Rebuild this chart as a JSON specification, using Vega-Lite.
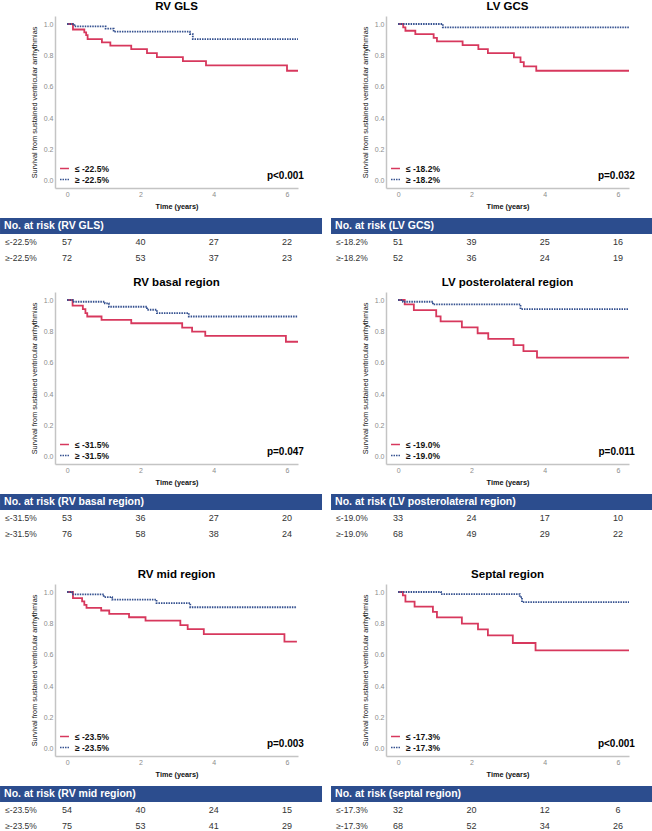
{
"$schema":"https://vega.github.io/schema/vega-lite/v6.json",
"padding":0,
"config":{"view":{"stroke":null},"font":"Liberation Sans",
"axis":{"domainColor":"#c4c4c4","domainWidth":1.5,"ticks":false,"grid":false,"labelColor":"#8c8c8c","labelFontSize":7,"labelOverlap":false,"titleFontSize":7.3,"titleColor":"#111","titleFontWeight":"normal"},
"axisX":{"labelPadding":2,"titlePadding":5,"titleFontWeight":"bold"},
"axisY":{"labelPadding":2,"titlePadding":5},
"title":{"fontSize":11.5,"fontWeight":"bold","offset":4,"color":"#000"},
"legend":{"orient":"bottom-left","offset":4,"padding":0,"symbolType":"stroke","symbolSize":80,"symbolStrokeWidth":1.6,"labelFontSize":8.5,"labelFontWeight":"bold","labelColor":"#111","rowPadding":1,"labelOffset":5}},
"spacing":10,
"resolve":{"scale":{"color":"independent","strokeDash":"independent"}},
"vconcat":[
{"hconcat":[
 {"vconcat":[
  {"width":243,"height":172,"title":"RV GLS","layer":[
   {"data":{"values":[{"g":"≤ -22.5%","t":0,"s":1},{"g":"≤ -22.5%","t":0.16,"s":0.965},{"g":"≤ -22.5%","t":0.47,"s":0.947},{"g":"≤ -22.5%","t":0.52,"s":0.929},{"g":"≤ -22.5%","t":0.56,"s":0.904},{"g":"≤ -22.5%","t":0.95,"s":0.883},{"g":"≤ -22.5%","t":1.18,"s":0.862},{"g":"≤ -22.5%","t":1.75,"s":0.84},{"g":"≤ -22.5%","t":2.18,"s":0.815},{"g":"≤ -22.5%","t":2.45,"s":0.789},{"g":"≤ -22.5%","t":3.16,"s":0.764},{"g":"≤ -22.5%","t":3.79,"s":0.736},{"g":"≤ -22.5%","t":6.0,"s":0.702},{"g":"≤ -22.5%","t":6.3,"s":0.702},
   {"g":"≥ -22.5%","t":0,"s":1},{"g":"≥ -22.5%","t":0.2,"s":0.985},{"g":"≥ -22.5%","t":1.05,"s":0.97},{"g":"≥ -22.5%","t":1.27,"s":0.951},{"g":"≥ -22.5%","t":3.35,"s":0.936},{"g":"≥ -22.5%","t":3.43,"s":0.904},{"g":"≥ -22.5%","t":6.3,"s":0.904}]},
    "mark":{"type":"line","interpolate":"step-after","strokeWidth":1.8},
    "encoding":{"x":{"field":"t","type":"quantitative","scale":{"domain":[-0.33,6.3],"nice":false,"zero":false},"axis":{"values":[0,2,4,6],"format":"d","title":"Time (years)"}},
     "y":{"field":"s","type":"quantitative","scale":{"domain":[-0.045,1.051],"nice":false,"zero":false},"axis":{"values":[0,0.2,0.4,0.6,0.8,1],"tickCount":10,"format":".1f","title":"Survival from sustained ventricular arrhythmias"}},
     "color":{"field":"g","type":"nominal","scale":{"range":["#d7385d","#34508f"]},"legend":{"title":null}},
     "strokeDash":{"field":"g","type":"nominal","scale":{"range":[[1,0],[1.5,1]]},"legend":{"title":null}}}},
   {"data":{"values":[{}]},"mark":{"type":"text","text":"p<0.001","align":"right","baseline":"middle","fontSize":10,"fontWeight":"bold","color":"#000"},"encoding":{"x":{"datum":6.46,"type":"quantitative"},"y":{"datum":0.03,"type":"quantitative"}}}
  ]},
  {"width":243,"height":48,"layer":[
   {"data":{"values":[{"h":"No. at risk (RV GLS)"}]},"layer":[
    {"mark":{"type":"rect","color":"#2c4d8e"},"encoding":{"x":{"datum":-1.83,"type":"quantitative","scale":{"domain":[-0.33,6.3],"nice":false,"zero":false},"axis":null},"x2":{"datum":6.955},"y":{"datum":"head","type":"nominal","scale":{"type":"band","domain":["head","a","b"],"paddingInner":0,"paddingOuter":0},"axis":null}}},
    {"mark":{"type":"text","align":"left","baseline":"middle","color":"white","fontSize":10.5,"fontWeight":"bold"},"encoding":{"x":{"datum":-1.72,"type":"quantitative"},"y":{"datum":"head","type":"nominal"},"text":{"field":"h"}}}]},
   {"data":{"values":[{"r":"a","lab":"≤-22.5%","t":0,"n":57},{"r":"a","lab":"≤-22.5%","t":2,"n":40},{"r":"a","lab":"≤-22.5%","t":4,"n":27},{"r":"a","lab":"≤-22.5%","t":6,"n":22},{"r":"b","lab":"≥-22.5%","t":0,"n":72},{"r":"b","lab":"≥-22.5%","t":2,"n":53},{"r":"b","lab":"≥-22.5%","t":4,"n":37},{"r":"b","lab":"≥-22.5%","t":6,"n":23}]},"layer":[
    {"transform":[{"filter":"datum.t === 0"}],"mark":{"type":"text","align":"left","baseline":"middle","fontSize":8.5,"color":"#333"},"encoding":{"x":{"datum":-1.69,"type":"quantitative"},"y":{"field":"r","type":"nominal"},"text":{"field":"lab"}}},
    {"mark":{"type":"text","align":"center","baseline":"middle","fontSize":9,"color":"#333"},"encoding":{"x":{"field":"t","type":"quantitative"},"y":{"field":"r","type":"nominal"},"text":{"field":"n"}}}]}
  ]}
 ],"spacing":8,"resolve":{"scale":{"color":"independent","strokeDash":"independent"}}},
 {"vconcat":[
  {"width":243,"height":172,"title":"LV GCS","layer":[
   {"data":{"values":[{"g":"≤ -18.2%","t":0,"s":1},{"g":"≤ -18.2%","t":0.14,"s":0.978},{"g":"≤ -18.2%","t":0.2,"s":0.957},{"g":"≤ -18.2%","t":0.47,"s":0.936},{"g":"≤ -18.2%","t":0.97,"s":0.911},{"g":"≤ -18.2%","t":1.06,"s":0.889},{"g":"≤ -18.2%","t":1.76,"s":0.866},{"g":"≤ -18.2%","t":2.19,"s":0.84},{"g":"≤ -18.2%","t":2.45,"s":0.815},{"g":"≤ -18.2%","t":3.16,"s":0.787},{"g":"≤ -18.2%","t":3.34,"s":0.757},{"g":"≤ -18.2%","t":3.43,"s":0.73},{"g":"≤ -18.2%","t":3.77,"s":0.702},{"g":"≤ -18.2%","t":6.3,"s":0.702},
   {"g":"≥ -18.2%","t":0,"s":1},{"g":"≥ -18.2%","t":1.22,"s":0.979},{"g":"≥ -18.2%","t":6.3,"s":0.979}]},
    "mark":{"type":"line","interpolate":"step-after","strokeWidth":1.8},
    "encoding":{"x":{"field":"t","type":"quantitative","scale":{"domain":[-0.33,6.3],"nice":false,"zero":false},"axis":{"values":[0,2,4,6],"format":"d","title":"Time (years)"}},
     "y":{"field":"s","type":"quantitative","scale":{"domain":[-0.045,1.051],"nice":false,"zero":false},"axis":{"values":[0,0.2,0.4,0.6,0.8,1],"tickCount":10,"format":".1f","title":"Survival from sustained ventricular arrhythmias"}},
     "color":{"field":"g","type":"nominal","scale":{"range":["#d7385d","#34508f"]},"legend":{"title":null}},
     "strokeDash":{"field":"g","type":"nominal","scale":{"range":[[1,0],[1.5,1]]},"legend":{"title":null}}}},
   {"data":{"values":[{}]},"mark":{"type":"text","text":"p=0.032","align":"right","baseline":"middle","fontSize":10,"fontWeight":"bold","color":"#000"},"encoding":{"x":{"datum":6.46,"type":"quantitative"},"y":{"datum":0.03,"type":"quantitative"}}}
  ]},
  {"width":243,"height":48,"layer":[
   {"data":{"values":[{"h":"No. at risk (LV GCS)"}]},"layer":[
    {"mark":{"type":"rect","color":"#2c4d8e"},"encoding":{"x":{"datum":-1.83,"type":"quantitative","scale":{"domain":[-0.33,6.3],"nice":false,"zero":false},"axis":null},"x2":{"datum":6.955},"y":{"datum":"head","type":"nominal","scale":{"type":"band","domain":["head","a","b"],"paddingInner":0,"paddingOuter":0},"axis":null}}},
    {"mark":{"type":"text","align":"left","baseline":"middle","color":"white","fontSize":10.5,"fontWeight":"bold"},"encoding":{"x":{"datum":-1.72,"type":"quantitative"},"y":{"datum":"head","type":"nominal"},"text":{"field":"h"}}}]},
   {"data":{"values":[{"r":"a","lab":"≤-18.2%","t":0,"n":51},{"r":"a","lab":"≤-18.2%","t":2,"n":39},{"r":"a","lab":"≤-18.2%","t":4,"n":25},{"r":"a","lab":"≤-18.2%","t":6,"n":16},{"r":"b","lab":"≥-18.2%","t":0,"n":52},{"r":"b","lab":"≥-18.2%","t":2,"n":36},{"r":"b","lab":"≥-18.2%","t":4,"n":24},{"r":"b","lab":"≥-18.2%","t":6,"n":19}]},"layer":[
    {"transform":[{"filter":"datum.t === 0"}],"mark":{"type":"text","align":"left","baseline":"middle","fontSize":8.5,"color":"#333"},"encoding":{"x":{"datum":-1.69,"type":"quantitative"},"y":{"field":"r","type":"nominal"},"text":{"field":"lab"}}},
    {"mark":{"type":"text","align":"center","baseline":"middle","fontSize":9,"color":"#333"},"encoding":{"x":{"field":"t","type":"quantitative"},"y":{"field":"r","type":"nominal"},"text":{"field":"n"}}}]}
  ]}
 ],"spacing":8,"resolve":{"scale":{"color":"independent","strokeDash":"independent"}}}
],"spacing":8,"resolve":{"scale":{"color":"independent","strokeDash":"independent"}}},
{"hconcat":[
 {"vconcat":[
  {"width":243,"height":172,"title":"RV basal region","layer":[
   {"data":{"values":[{"g":"≤ -31.5%","t":0,"s":1},{"g":"≤ -31.5%","t":0.15,"s":0.964},{"g":"≤ -31.5%","t":0.43,"s":0.942},{"g":"≤ -31.5%","t":0.5,"s":0.916},{"g":"≤ -31.5%","t":0.55,"s":0.895},{"g":"≤ -31.5%","t":0.94,"s":0.874},{"g":"≤ -31.5%","t":1.75,"s":0.852},{"g":"≤ -31.5%","t":3.14,"s":0.824},{"g":"≤ -31.5%","t":3.41,"s":0.799},{"g":"≤ -31.5%","t":3.77,"s":0.771},{"g":"≤ -31.5%","t":5.97,"s":0.734},{"g":"≤ -31.5%","t":6.3,"s":0.734},
   {"g":"≥ -31.5%","t":0,"s":1},{"g":"≥ -31.5%","t":0.18,"s":0.989},{"g":"≥ -31.5%","t":1.03,"s":0.979},{"g":"≥ -31.5%","t":1.14,"s":0.957},{"g":"≥ -31.5%","t":2.18,"s":0.938},{"g":"≥ -31.5%","t":2.45,"s":0.916},{"g":"≥ -31.5%","t":3.32,"s":0.895},{"g":"≥ -31.5%","t":6.3,"s":0.895}]},
    "mark":{"type":"line","interpolate":"step-after","strokeWidth":1.8},
    "encoding":{"x":{"field":"t","type":"quantitative","scale":{"domain":[-0.33,6.3],"nice":false,"zero":false},"axis":{"values":[0,2,4,6],"format":"d","title":"Time (years)"}},
     "y":{"field":"s","type":"quantitative","scale":{"domain":[-0.045,1.051],"nice":false,"zero":false},"axis":{"values":[0,0.2,0.4,0.6,0.8,1],"tickCount":10,"format":".1f","title":"Survival from sustained ventricular arrhythmias"}},
     "color":{"field":"g","type":"nominal","scale":{"range":["#d7385d","#34508f"]},"legend":{"title":null}},
     "strokeDash":{"field":"g","type":"nominal","scale":{"range":[[1,0],[1.5,1]]},"legend":{"title":null}}}},
   {"data":{"values":[{}]},"mark":{"type":"text","text":"p=0.047","align":"right","baseline":"middle","fontSize":10,"fontWeight":"bold","color":"#000"},"encoding":{"x":{"datum":6.46,"type":"quantitative"},"y":{"datum":0.03,"type":"quantitative"}}}
  ]},
  {"width":243,"height":64,"layer":[
   {"data":{"values":[{"h":"No. at risk (RV basal region)"}]},"layer":[
    {"mark":{"type":"rect","color":"#2c4d8e"},"encoding":{"x":{"datum":-1.83,"type":"quantitative","scale":{"domain":[-0.33,6.3],"nice":false,"zero":false},"axis":null},"x2":{"datum":6.955},"y":{"datum":"head","type":"nominal","scale":{"type":"band","domain":["head","a","b","pad"],"paddingInner":0,"paddingOuter":0},"axis":null}}},
    {"mark":{"type":"text","align":"left","baseline":"middle","color":"white","fontSize":10.5,"fontWeight":"bold"},"encoding":{"x":{"datum":-1.72,"type":"quantitative"},"y":{"datum":"head","type":"nominal"},"text":{"field":"h"}}}]},
   {"data":{"values":[{"r":"a","lab":"≤-31.5%","t":0,"n":53},{"r":"a","lab":"≤-31.5%","t":2,"n":36},{"r":"a","lab":"≤-31.5%","t":4,"n":27},{"r":"a","lab":"≤-31.5%","t":6,"n":20},{"r":"b","lab":"≥-31.5%","t":0,"n":76},{"r":"b","lab":"≥-31.5%","t":2,"n":58},{"r":"b","lab":"≥-31.5%","t":4,"n":38},{"r":"b","lab":"≥-31.5%","t":6,"n":24}]},"layer":[
    {"transform":[{"filter":"datum.t === 0"}],"mark":{"type":"text","align":"left","baseline":"middle","fontSize":8.5,"color":"#333"},"encoding":{"x":{"datum":-1.69,"type":"quantitative"},"y":{"field":"r","type":"nominal"},"text":{"field":"lab"}}},
    {"mark":{"type":"text","align":"center","baseline":"middle","fontSize":9,"color":"#333"},"encoding":{"x":{"field":"t","type":"quantitative"},"y":{"field":"r","type":"nominal"},"text":{"field":"n"}}}]}
  ]}
 ],"spacing":8,"resolve":{"scale":{"color":"independent","strokeDash":"independent"}}},
 {"vconcat":[
  {"width":243,"height":172,"title":"LV posterolateral region","layer":[
   {"data":{"values":[{"g":"≤ -19.0%","t":0,"s":1},{"g":"≤ -19.0%","t":0.18,"s":0.972},{"g":"≤ -19.0%","t":0.43,"s":0.935},{"g":"≤ -19.0%","t":1.04,"s":0.896},{"g":"≤ -19.0%","t":1.16,"s":0.864},{"g":"≤ -19.0%","t":1.74,"s":0.825},{"g":"≤ -19.0%","t":2.17,"s":0.788},{"g":"≤ -19.0%","t":2.46,"s":0.752},{"g":"≤ -19.0%","t":3.15,"s":0.713},{"g":"≤ -19.0%","t":3.42,"s":0.674},{"g":"≤ -19.0%","t":3.79,"s":0.633},{"g":"≤ -19.0%","t":6.3,"s":0.633},
   {"g":"≥ -19.0%","t":0,"s":1},{"g":"≥ -19.0%","t":0.13,"s":0.989},{"g":"≥ -19.0%","t":0.95,"s":0.972},{"g":"≥ -19.0%","t":3.34,"s":0.942},{"g":"≥ -19.0%","t":6.3,"s":0.942}]},
    "mark":{"type":"line","interpolate":"step-after","strokeWidth":1.8},
    "encoding":{"x":{"field":"t","type":"quantitative","scale":{"domain":[-0.33,6.3],"nice":false,"zero":false},"axis":{"values":[0,2,4,6],"format":"d","title":"Time (years)"}},
     "y":{"field":"s","type":"quantitative","scale":{"domain":[-0.045,1.051],"nice":false,"zero":false},"axis":{"values":[0,0.2,0.4,0.6,0.8,1],"tickCount":10,"format":".1f","title":"Survival from sustained ventricular arrhythmias"}},
     "color":{"field":"g","type":"nominal","scale":{"range":["#d7385d","#34508f"]},"legend":{"title":null}},
     "strokeDash":{"field":"g","type":"nominal","scale":{"range":[[1,0],[1.5,1]]},"legend":{"title":null}}}},
   {"data":{"values":[{}]},"mark":{"type":"text","text":"p=0.011","align":"right","baseline":"middle","fontSize":10,"fontWeight":"bold","color":"#000"},"encoding":{"x":{"datum":6.46,"type":"quantitative"},"y":{"datum":0.03,"type":"quantitative"}}}
  ]},
  {"width":243,"height":64,"layer":[
   {"data":{"values":[{"h":"No. at risk (LV posterolateral region)"}]},"layer":[
    {"mark":{"type":"rect","color":"#2c4d8e"},"encoding":{"x":{"datum":-1.83,"type":"quantitative","scale":{"domain":[-0.33,6.3],"nice":false,"zero":false},"axis":null},"x2":{"datum":6.955},"y":{"datum":"head","type":"nominal","scale":{"type":"band","domain":["head","a","b","pad"],"paddingInner":0,"paddingOuter":0},"axis":null}}},
    {"mark":{"type":"text","align":"left","baseline":"middle","color":"white","fontSize":10.5,"fontWeight":"bold"},"encoding":{"x":{"datum":-1.72,"type":"quantitative"},"y":{"datum":"head","type":"nominal"},"text":{"field":"h"}}}]},
   {"data":{"values":[{"r":"a","lab":"≤-19.0%","t":0,"n":33},{"r":"a","lab":"≤-19.0%","t":2,"n":24},{"r":"a","lab":"≤-19.0%","t":4,"n":17},{"r":"a","lab":"≤-19.0%","t":6,"n":10},{"r":"b","lab":"≥-19.0%","t":0,"n":68},{"r":"b","lab":"≥-19.0%","t":2,"n":49},{"r":"b","lab":"≥-19.0%","t":4,"n":29},{"r":"b","lab":"≥-19.0%","t":6,"n":22}]},"layer":[
    {"transform":[{"filter":"datum.t === 0"}],"mark":{"type":"text","align":"left","baseline":"middle","fontSize":8.5,"color":"#333"},"encoding":{"x":{"datum":-1.69,"type":"quantitative"},"y":{"field":"r","type":"nominal"},"text":{"field":"lab"}}},
    {"mark":{"type":"text","align":"center","baseline":"middle","fontSize":9,"color":"#333"},"encoding":{"x":{"field":"t","type":"quantitative"},"y":{"field":"r","type":"nominal"},"text":{"field":"n"}}}]}
  ]}
 ],"spacing":8,"resolve":{"scale":{"color":"independent","strokeDash":"independent"}}}
],"spacing":8,"resolve":{"scale":{"color":"independent","strokeDash":"independent"}}},
{"hconcat":[
 {"vconcat":[
  {"width":243,"height":172,"title":"RV mid region","layer":[
   {"data":{"values":[{"g":"≤ -23.5%","t":0,"s":1},{"g":"≤ -23.5%","t":0.16,"s":0.961},{"g":"≤ -23.5%","t":0.41,"s":0.94},{"g":"≤ -23.5%","t":0.47,"s":0.918},{"g":"≤ -23.5%","t":0.53,"s":0.899},{"g":"≤ -23.5%","t":0.93,"s":0.882},{"g":"≤ -23.5%","t":1.15,"s":0.86},{"g":"≤ -23.5%","t":1.69,"s":0.839},{"g":"≤ -23.5%","t":2.14,"s":0.817},{"g":"≤ -23.5%","t":3.09,"s":0.789},{"g":"≤ -23.5%","t":3.29,"s":0.763},{"g":"≤ -23.5%","t":3.73,"s":0.731},{"g":"≤ -23.5%","t":5.93,"s":0.684},{"g":"≤ -23.5%","t":6.27,"s":0.684},
   {"g":"≥ -23.5%","t":0,"s":1},{"g":"≥ -23.5%","t":0.14,"s":0.985},{"g":"≥ -23.5%","t":1.0,"s":0.968},{"g":"≥ -23.5%","t":1.23,"s":0.951},{"g":"≥ -23.5%","t":2.44,"s":0.929},{"g":"≥ -23.5%","t":3.36,"s":0.903},{"g":"≥ -23.5%","t":6.27,"s":0.903}]},
    "mark":{"type":"line","interpolate":"step-after","strokeWidth":1.8},
    "encoding":{"x":{"field":"t","type":"quantitative","scale":{"domain":[-0.33,6.3],"nice":false,"zero":false},"axis":{"values":[0,2,4,6],"format":"d","title":"Time (years)"}},
     "y":{"field":"s","type":"quantitative","scale":{"domain":[-0.045,1.051],"nice":false,"zero":false},"axis":{"values":[0,0.2,0.4,0.6,0.8,1],"tickCount":10,"format":".1f","title":"Survival from sustained ventricular arrhythmias"}},
     "color":{"field":"g","type":"nominal","scale":{"range":["#d7385d","#34508f"]},"legend":{"title":null}},
     "strokeDash":{"field":"g","type":"nominal","scale":{"range":[[1,0],[1.5,1]]},"legend":{"title":null}}}},
   {"data":{"values":[{}]},"mark":{"type":"text","text":"p=0.003","align":"right","baseline":"middle","fontSize":10,"fontWeight":"bold","color":"#000"},"encoding":{"x":{"datum":6.46,"type":"quantitative"},"y":{"datum":0.03,"type":"quantitative"}}}
  ]},
  {"width":243,"height":48,"layer":[
   {"data":{"values":[{"h":"No. at risk (RV mid region)"}]},"layer":[
    {"mark":{"type":"rect","color":"#2c4d8e"},"encoding":{"x":{"datum":-1.83,"type":"quantitative","scale":{"domain":[-0.33,6.3],"nice":false,"zero":false},"axis":null},"x2":{"datum":6.955},"y":{"datum":"head","type":"nominal","scale":{"type":"band","domain":["head","a","b"],"paddingInner":0,"paddingOuter":0},"axis":null}}},
    {"mark":{"type":"text","align":"left","baseline":"middle","color":"white","fontSize":10.5,"fontWeight":"bold"},"encoding":{"x":{"datum":-1.72,"type":"quantitative"},"y":{"datum":"head","type":"nominal"},"text":{"field":"h"}}}]},
   {"data":{"values":[{"r":"a","lab":"≤-23.5%","t":0,"n":54},{"r":"a","lab":"≤-23.5%","t":2,"n":40},{"r":"a","lab":"≤-23.5%","t":4,"n":24},{"r":"a","lab":"≤-23.5%","t":6,"n":15},{"r":"b","lab":"≥-23.5%","t":0,"n":75},{"r":"b","lab":"≥-23.5%","t":2,"n":53},{"r":"b","lab":"≥-23.5%","t":4,"n":41},{"r":"b","lab":"≥-23.5%","t":6,"n":29}]},"layer":[
    {"transform":[{"filter":"datum.t === 0"}],"mark":{"type":"text","align":"left","baseline":"middle","fontSize":8.5,"color":"#333"},"encoding":{"x":{"datum":-1.69,"type":"quantitative"},"y":{"field":"r","type":"nominal"},"text":{"field":"lab"}}},
    {"mark":{"type":"text","align":"center","baseline":"middle","fontSize":9,"color":"#333"},"encoding":{"x":{"field":"t","type":"quantitative"},"y":{"field":"r","type":"nominal"},"text":{"field":"n"}}}]}
  ]}
 ],"spacing":8,"resolve":{"scale":{"color":"independent","strokeDash":"independent"}}},
 {"vconcat":[
  {"width":243,"height":172,"title":"Septal region","layer":[
   {"data":{"values":[{"g":"≤ -17.3%","t":0,"s":1},{"g":"≤ -17.3%","t":0.13,"s":0.978},{"g":"≤ -17.3%","t":0.2,"s":0.939},{"g":"≤ -17.3%","t":0.45,"s":0.907},{"g":"≤ -17.3%","t":0.95,"s":0.874},{"g":"≤ -17.3%","t":1.06,"s":0.838},{"g":"≤ -17.3%","t":1.74,"s":0.799},{"g":"≤ -17.3%","t":2.18,"s":0.762},{"g":"≤ -17.3%","t":2.45,"s":0.723},{"g":"≤ -17.3%","t":3.13,"s":0.675},{"g":"≤ -17.3%","t":3.75,"s":0.628},{"g":"≤ -17.3%","t":6.3,"s":0.628},
   {"g":"≥ -17.3%","t":0,"s":1},{"g":"≥ -17.3%","t":1.17,"s":0.987},{"g":"≥ -17.3%","t":3.32,"s":0.967},{"g":"≥ -17.3%","t":3.38,"s":0.935},{"g":"≥ -17.3%","t":6.3,"s":0.935}]},
    "mark":{"type":"line","interpolate":"step-after","strokeWidth":1.8},
    "encoding":{"x":{"field":"t","type":"quantitative","scale":{"domain":[-0.33,6.3],"nice":false,"zero":false},"axis":{"values":[0,2,4,6],"format":"d","title":"Time (years)"}},
     "y":{"field":"s","type":"quantitative","scale":{"domain":[-0.045,1.051],"nice":false,"zero":false},"axis":{"values":[0,0.2,0.4,0.6,0.8,1],"tickCount":10,"format":".1f","title":"Survival from sustained ventricular arrhythmias"}},
     "color":{"field":"g","type":"nominal","scale":{"range":["#d7385d","#34508f"]},"legend":{"title":null}},
     "strokeDash":{"field":"g","type":"nominal","scale":{"range":[[1,0],[1.5,1]]},"legend":{"title":null}}}},
   {"data":{"values":[{}]},"mark":{"type":"text","text":"p<0.001","align":"right","baseline":"middle","fontSize":10,"fontWeight":"bold","color":"#000"},"encoding":{"x":{"datum":6.46,"type":"quantitative"},"y":{"datum":0.03,"type":"quantitative"}}}
  ]},
  {"width":243,"height":48,"layer":[
   {"data":{"values":[{"h":"No. at risk (septal region)"}]},"layer":[
    {"mark":{"type":"rect","color":"#2c4d8e"},"encoding":{"x":{"datum":-1.83,"type":"quantitative","scale":{"domain":[-0.33,6.3],"nice":false,"zero":false},"axis":null},"x2":{"datum":6.955},"y":{"datum":"head","type":"nominal","scale":{"type":"band","domain":["head","a","b"],"paddingInner":0,"paddingOuter":0},"axis":null}}},
    {"mark":{"type":"text","align":"left","baseline":"middle","color":"white","fontSize":10.5,"fontWeight":"bold"},"encoding":{"x":{"datum":-1.72,"type":"quantitative"},"y":{"datum":"head","type":"nominal"},"text":{"field":"h"}}}]},
   {"data":{"values":[{"r":"a","lab":"≤-17.3%","t":0,"n":32},{"r":"a","lab":"≤-17.3%","t":2,"n":20},{"r":"a","lab":"≤-17.3%","t":4,"n":12},{"r":"a","lab":"≤-17.3%","t":6,"n":6},{"r":"b","lab":"≥-17.3%","t":0,"n":68},{"r":"b","lab":"≥-17.3%","t":2,"n":52},{"r":"b","lab":"≥-17.3%","t":4,"n":34},{"r":"b","lab":"≥-17.3%","t":6,"n":26}]},"layer":[
    {"transform":[{"filter":"datum.t === 0"}],"mark":{"type":"text","align":"left","baseline":"middle","fontSize":8.5,"color":"#333"},"encoding":{"x":{"datum":-1.69,"type":"quantitative"},"y":{"field":"r","type":"nominal"},"text":{"field":"lab"}}},
    {"mark":{"type":"text","align":"center","baseline":"middle","fontSize":9,"color":"#333"},"encoding":{"x":{"field":"t","type":"quantitative"},"y":{"field":"r","type":"nominal"},"text":{"field":"n"}}}]}
  ]}
 ],"spacing":8,"resolve":{"scale":{"color":"independent","strokeDash":"independent"}}}
],"spacing":8,"resolve":{"scale":{"color":"independent","strokeDash":"independent"}}}
]}
